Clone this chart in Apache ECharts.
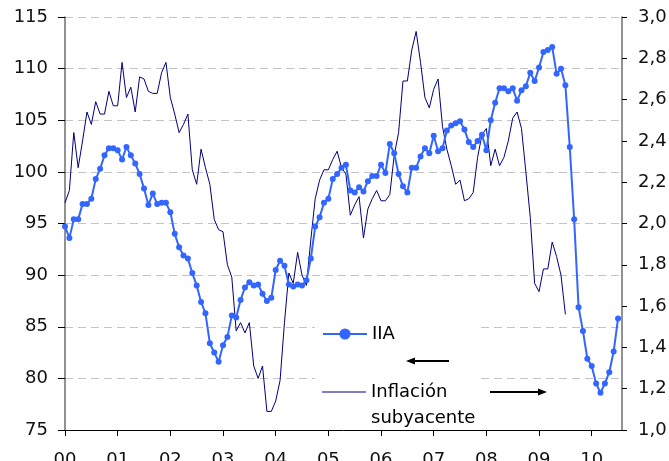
<!DOCTYPE html>
<html>
<head>
<meta charset="utf-8">
<script src="https://cdn.jsdelivr.net/npm/echarts@6/dist/echarts.min.js"></script>
<style>
html,body{margin:0;padding:0;background:#fff;}
#chart{width:669px;height:461px;}
</style>
</head>
<body>
<div id="chart"></div>
<script>
// Monthly data, first value = January 2000
const startYear = 2000;
const yearTickLabels = ["00","01","02","03","04","05","06","07","08","09","10"];

// IIA (left axis)
const iia = [
  94.7, 93.6, 95.4, 95.4, 96.9, 96.9, 97.4, 99.3, 100.3, 101.6, 102.3, 102.3,
  102.1, 101.2, 102.4, 101.6, 100.8, 99.8, 98.4, 96.8, 97.9, 96.9, 97.0, 97.0,
  96.1, 94.0, 92.7, 91.9, 91.6, 90.2, 89.0, 87.4, 86.3, 83.4, 82.5, 81.6,
  83.2, 84.0, 86.1, 85.9, 87.6, 88.8, 89.3, 89.0, 89.1, 88.2, 87.5, 87.8,
  90.5, 91.4, 90.9, 89.1, 88.9, 89.1, 89.0, 89.5, 91.6, 94.7, 95.6, 97.0,
  97.4, 99.3, 99.8, 100.4, 100.7, 98.2, 98.0, 98.5, 98.1, 99.1, 99.6, 99.6,
  100.7, 99.9, 102.7, 101.8, 99.8, 98.6, 98.0, 100.4, 100.4, 101.5, 102.3, 101.8,
  103.5, 102.0, 102.3, 104.0, 104.5, 104.7, 104.9, 104.1, 102.9, 102.4, 103.0, 103.6,
  102.1, 105.0, 106.7, 108.1, 108.1, 107.8, 108.1, 106.9, 107.9, 108.3, 109.6, 108.8,
  110.1, 111.6, 111.8, 112.1, 109.5, 110.0, 108.4, 102.4, 95.4, 86.9, 84.6, 81.9,
  81.2, 79.5, 78.6, 79.5, 80.6, 82.6, 85.8
];

// Inflación subyacente (right axis)
const core = [
  2.10, 2.16, 2.44, 2.27, 2.40, 2.54, 2.48, 2.59, 2.53, 2.53, 2.64, 2.57,
  2.57, 2.78, 2.61, 2.66, 2.54, 2.71, 2.70, 2.64, 2.63, 2.63, 2.73, 2.78,
  2.61, 2.53, 2.44, 2.48, 2.53, 2.26, 2.19, 2.36, 2.27, 2.19, 2.02, 1.97,
  1.96, 1.80, 1.74, 1.48, 1.52, 1.47, 1.52, 1.31, 1.25, 1.31, 1.09, 1.09,
  1.14, 1.24, 1.52, 1.76, 1.71, 1.86, 1.75, 1.70, 1.92, 2.12, 2.21, 2.26,
  2.26, 2.31, 2.35, 2.27, 2.24, 2.04, 2.09, 2.13, 1.93, 2.07, 2.12, 2.16,
  2.11, 2.11, 2.14, 2.33, 2.44, 2.69, 2.69, 2.84, 2.93, 2.78, 2.61, 2.56,
  2.65, 2.70, 2.47, 2.36, 2.28, 2.19, 2.21, 2.11, 2.12, 2.15, 2.32, 2.43,
  2.46, 2.28, 2.36, 2.28, 2.32, 2.40, 2.51, 2.54, 2.46, 2.25, 2.03, 1.71,
  1.67, 1.78, 1.78, 1.91, 1.84, 1.75, 1.56
];

const FONT = 'DejaVu Sans';
const toPairs = arr => arr.map((v, i) => [i, v]);

const chart = echarts.init(document.getElementById('chart'), null, {renderer: 'canvas'});
chart.setOption({
  animation: false,
  backgroundColor: '#fff',
  grid: {left: 65, right: 47, top: 17, bottom: 31, containLabel: false, outerBoundsMode: 'none'},
  legend: [
    {
      orient: 'vertical', left: 315, top: 321, padding: [0, 0, 0, 7],
      itemWidth: 44, itemHeight: 14,
      textStyle: {fontFamily: FONT, fontSize: 18, color: '#000', lineHeight: 26},
      data: [{name: 'IIA'}]
    },
    {
      orient: 'vertical', left: 315, top: 353, padding: [0, 0, 0, 7],
      itemWidth: 44, itemHeight: 1.2, icon: 'rect',
      textStyle: {fontFamily: FONT, fontSize: 18, color: '#000', lineHeight: 26},
      formatter: () => ' \nInflación\nsubyacente',
      data: [{name: 'Inflación subyacente'}]
    }
  ],
  xAxis: {
    type: 'value', min: 0, max: 126.9, interval: 12, z: 5,
    axisLine: {lineStyle: {color: '#000', width: 1}},
    axisTick: {length: 6, lineStyle: {color: '#000'}},
    splitLine: {show: false},
    axisLabel: {
      margin: 21, fontFamily: FONT, fontSize: 18, color: '#111', showMaxLabel: false,
      formatter: v => (v % 12 === 0 ? yearTickLabels[v / 12] : '')
    }
  },
  yAxis: [
    {
      type: 'value', min: 75, max: 115, interval: 5, position: 'left',
      axisLine: {show: true, lineStyle: {color: '#6e6e6e', width: 1.5}},
      axisTick: {show: true, length: 7, lineStyle: {color: '#000'}},
      splitLine: {show: true, lineStyle: {color: '#c4c4c4', type: [8, 5], width: 1}},
      axisLabel: {margin: 17, fontFamily: FONT, fontSize: 18, color: '#111'}
    },
    {
      type: 'value', min: 1, max: 3, interval: 0.2, position: 'right',
      axisLine: {show: true, lineStyle: {color: '#6e6e6e', width: 1.5}},
      axisTick: {show: true, length: 5, lineStyle: {color: '#000'}},
      splitLine: {show: false},
      axisLabel: {
        margin: 16, fontFamily: FONT, fontSize: 18, color: '#111',
        formatter: v => v.toFixed(1).replace('.', ',')
      }
    }
  ],
  series: [
    {
      name: 'Inflación subyacente', type: 'line', yAxisIndex: 1,
      data: toPairs(core), symbol: 'none',
      lineStyle: {color: '#000080', width: 1},
      itemStyle: {color: '#000080'}, z: 2
    },
    {
      name: 'IIA', type: 'line', yAxisIndex: 0,
      data: toPairs(iia), symbol: 'circle', symbolSize: 6, showSymbol: true,
      lineStyle: {color: '#3366ff', width: 2},
      itemStyle: {color: '#3366ff'}, z: 3
    }
  ],
  graphic: [
    {type: 'rect', z: 1, shape: {x: 315, y: 300, width: 165, height: 125}, style: {fill: '#fff'}},
    {type: 'line', z: 100, shape: {x1: 449, y1: 361, x2: 413, y2: 361}, style: {stroke: '#000', lineWidth: 2}},
    {type: 'polygon', z: 100, shape: {points: [[406, 361], [415, 357.5], [415, 364.5]]}, style: {fill: '#000'}},
    {type: 'line', z: 100, shape: {x1: 490, y1: 392, x2: 540, y2: 392}, style: {stroke: '#000', lineWidth: 2}},
    {type: 'polygon', z: 100, shape: {points: [[547, 392], [538, 388.5], [538, 395.5]]}, style: {fill: '#000'}}
  ]
});
</script>
</body>
</html>
